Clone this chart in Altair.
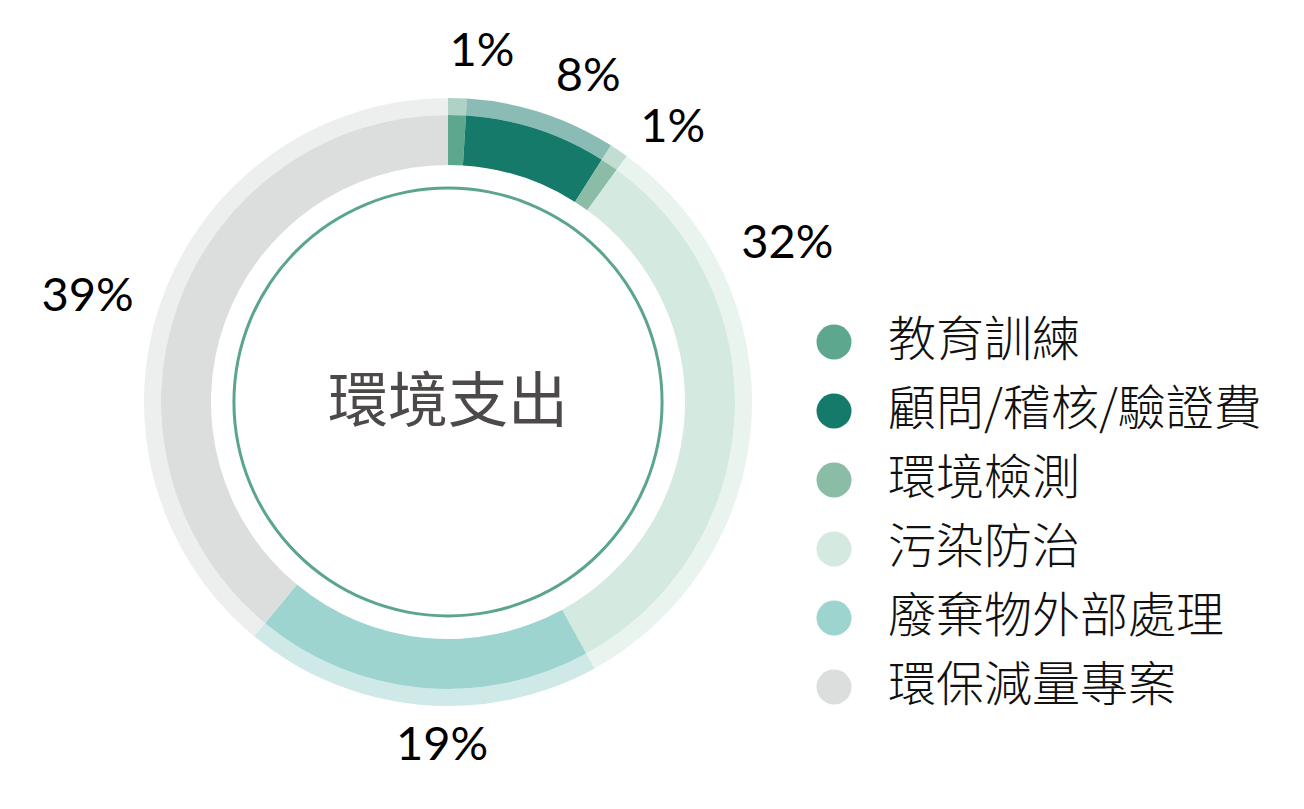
import math
import altair as alt
import pandas as pd

# ---- data ----
categories = ["教育訓練", "顧問/稽核/驗證費", "環境檢測", "污染防治", "廢棄物外部處理", "環保減量專案"]
values = [1, 8, 1, 32, 19, 39]
colors = ["#5DA78E", "#167A6B", "#8ABCA6", "#D4E9E0", "#9ED4CF", "#DCDDDD"]
center_title = "環境支出"

df = pd.DataFrame({"category": categories, "value": values,
                   "order": list(range(len(categories)))})
title_df = pd.DataFrame({"text": [center_title]})
one_df = pd.DataFrame({"k": [0]})

# ---- layout / style ----
CX, CY = 448, 402
theta_scale = alt.Scale(domain=[0, 100])
color_enc = alt.Color(
    "category:N",
    scale=alt.Scale(domain=categories, range=colors),
    sort=categories,
    legend=alt.Legend(
        title=None, orient="none", legendX=810, legendY=318, padding=0,
        symbolType="circle", symbolSize=1225, symbolStrokeWidth=0, symbolOpacity=1,
        labelFontSize=48, labelFont="Noto Sans CJK TC", labelFontWeight=300,
        labelColor="#111111",
        labelOffset=30, rowPadding=21, labelLimit=600,
    ),
)

base = alt.Chart(df).transform_window(
    cum="sum(value)", sort=[alt.SortField("order")], frame=[None, 0]
).transform_calculate(
    start="datum.cum - datum.value",
    mid="datum.cum - datum.value / 2",
    label="datum.value + '%'",
)

pos = dict(x=alt.value(CX), y=alt.value(CY))

outer = base.mark_arc(radius=304, radius2=287, opacity=0.5).encode(
    theta=alt.Theta("start:Q", scale=theta_scale, stack=None),
    theta2="cum:Q",
    color=color_enc,
    **pos,
)

band = base.mark_arc(radius=287, radius2=237).encode(
    theta=alt.Theta("start:Q", scale=theta_scale, stack=None),
    theta2="cum:Q",
    color=color_enc,
    **pos,
)

ring = alt.Chart(one_df).mark_arc(
    radius=215.5, radius2=212.5, theta=0, theta2=2 * math.pi, color="#5BA58C"
).encode(**pos)

title = alt.Chart(title_df).mark_text(
    fontSize=60, font="Noto Sans CJK TC", fontWeight=400, color="#4D4949"
).encode(x=alt.value(CX), y=alt.value(404), text="text:N")

# label nudges (style) per slice, in category order
shifts = [(23, 0), (32, 8), (28, 15), (-10, -180), (27, -4), (-31, 14)]
labels = []
for cat, (dx, dy) in zip(categories, shifts):
    labels.append(
        base.transform_filter(alt.datum.category == cat).mark_text(
            radius=350, dx=dx, dy=dy, fontSize=47, font="Lato", color="#000000"
        ).encode(
            theta=alt.Theta("mid:Q", scale=theta_scale, stack=None),
            text="label:N",
            **pos,
        )
    )

chart = alt.layer(outer, band, ring, title, *labels).properties(
    width=1304, height=809, autosize=alt.AutoSizeParams(type="none"), padding=0
).configure_view(stroke=None)

chart.save("out.html", embed_options={"renderer": "svg", "actions": False})
